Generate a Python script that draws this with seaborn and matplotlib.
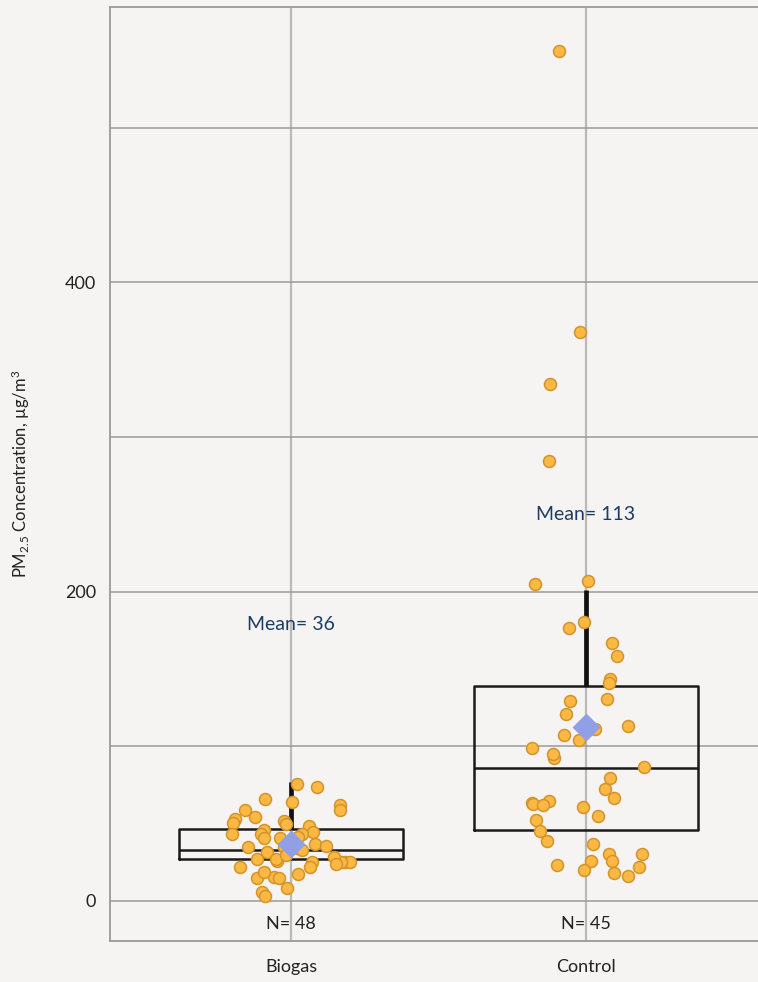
import numpy as np
import pandas as pd
import matplotlib.pyplot as plt
import seaborn as sns

# -----------------------------
# Data
# -----------------------------
groups = ["Biogas", "Control"]

biogas_pm = [75.6, 73.6, 65.9, 64.0, 62.0, 58.8, 58.8, 54.3, 53.0, 51.7,
             50.4, 49.7, 48.4, 45.9, 44.6, 43.3, 43.3, 41.3, 43.3, 41.0,
             40.7, 36.8, 34.9, 34.9, 34.2, 35.5, 31.7, 27.1, 25.8, 25.2,
             25.2, 25.2, 25.2, 28.4, 27.1, 22.0, 22.0, 17.4, 15.5, 14.9,
             14.9, 8.4, 5.8, 3.2, 30.0, 24.0, 33.0, 19.0]

control_pm = [549.7, 367.6, 334.0, 284.2, 206.7, 204.8, 180.2, 176.4, 166.7,
              158.3, 143.4, 140.8, 129.2, 130.5, 120.8, 111.1, 107.2, 104.0,
              98.8, 92.4, 86.6, 95.0, 79.5, 72.4, 66.5, 60.7, 54.9, 63.3,
              62.7, 64.6, 62.0, 52.3, 45.2, 36.8, 38.8, 30.4, 30.4, 25.8,
              25.8, 23.3, 22.0, 16.1, 18.1, 20.0, 113.0]

# box summary: lower quartile, median, upper quartile, upper whisker
box_q1 = [27.1, 45.7]
box_med = [32.9, 85.7]
box_q3 = [46.5, 139.0]
box_whishi = [77.0, 200.9]

mean_labels = [36, 113]
mean_label_y = [179, 250]
n_label_y = -15

data = pd.DataFrame({
    "Group": ["Biogas"] * len(biogas_pm) + ["Control"] * len(control_pm),
    "PM": biogas_pm + control_pm,
})

# -----------------------------
# Plot
# -----------------------------
np.random.seed(3)

sns.set_style("white")
plt.rcParams["font.family"] = ["Lato", "DejaVu Sans"]
plt.rcParams["mathtext.default"] = "regular"

bg = "#f5f4f2"
fig = plt.figure(figsize=(7.58, 9.82), dpi=100, facecolor=bg)
ax = fig.add_axes([110 / 758, 1 - 941 / 982, 1 - 110 / 758, (941 - 7) / 982])
ax.set_facecolor(bg)

# boxes with only the upper whisker
stats = []
for i in range(len(groups)):
    stats.append({"q1": box_q1[i], "med": box_med[i], "q3": box_q3[i],
                  "whislo": box_q1[i], "whishi": box_whishi[i], "fliers": []})
ax.bxp(stats, positions=[0, 1], widths=0.76, showcaps=False, showfliers=False,
       manage_ticks=False, patch_artist=False,
       boxprops=dict(color="#1a1a1a", linewidth=1.8),
       medianprops=dict(color="#1a1a1a", linewidth=1.8),
       whiskerprops=dict(color="#111111", linewidth=3.4, solid_capstyle="butt"),
       zorder=3)

sns.stripplot(data=data, x="Group", y="PM", order=groups, jitter=0.21,
              color="#fbb843", edgecolor="#d4932a", linewidth=1.1, size=8.6,
              ax=ax, zorder=4)

sns.pointplot(data=data, x="Group", y="PM", order=groups, estimator="mean",
              errorbar=None, marker="D", linestyle="none", markersize=12.5,
              color="#919fe6", ax=ax, zorder=5)

for i, g in enumerate(groups):
    n = (data["Group"] == g).sum()
    ax.text(i, mean_label_y[i], f"Mean= {mean_labels[i]}", ha="center",
            va="center", fontsize=14, color="#1c3d63", zorder=6)
    ax.text(i, n_label_y, f"N= {n}", ha="center", va="center",
            fontsize=13, color="#222222", zorder=6)

ax.set_xlim(-0.6136, 1.583)
ax.set_ylim(-25.9, 577.9)
ax.set_yticks([0, 200, 400])
ax.set_yticks([100, 300, 500], minor=True)
ax.grid(axis="y", which="both", color="#9a9a9a", linewidth=1.1, zorder=0)
ax.grid(axis="x", color="#b9b9b9", linewidth=1.6, zorder=0)
ax.set_axisbelow(True)

ax.tick_params(axis="both", which="both", length=0, labelsize=13,
               colors="#222222")
ax.tick_params(axis="y", pad=10)
ax.tick_params(axis="x", pad=13)

ax.set_xlabel("")
ax.set_ylabel(r"PM$_{2.5}$ Concentration, µg/m$^{3}$", fontsize=12,
              color="#222222", labelpad=24)

for side in ["left", "bottom", "top"]:
    ax.spines[side].set_color("#9a9a9a")
    ax.spines[side].set_linewidth(1.3)
ax.spines["right"].set_visible(False)

plt.savefig("out.png", dpi=100, facecolor=bg)
